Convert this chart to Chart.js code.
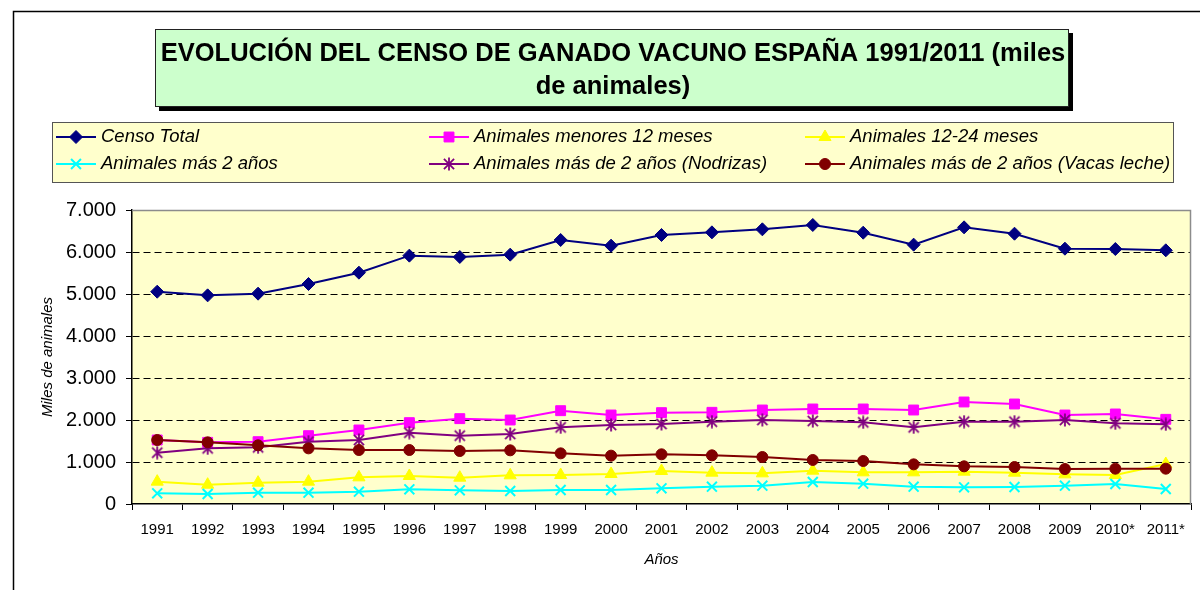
<!DOCTYPE html>
<html>
<head>
<meta charset="utf-8">
<script src="https://cdn.jsdelivr.net/npm/chart.js@4/dist/chart.umd.min.js"></script>
<style>
  html, body { margin: 0; padding: 0; background: #fff; }
  #wrap { width: 1200px; height: 590px; position: relative; }
</style>
</head>
<body>
<div id="wrap"><canvas id="c" width="1200" height="590"></canvas></div>
<script>
// ---- data ----
const years = ['1991','1992','1993','1994','1995','1996','1997','1998','1999','2000','2001','2002','2003','2004','2005','2006','2007','2008','2009','2010*','2011*'];
const censoTotal = [5055, 4968, 5008, 5238, 5508, 5913, 5881, 5937, 6286, 6151, 6405, 6468, 6540, 6643, 6460, 6175, 6587, 6436, 6079, 6071, 6040];
const menores12 = [1524, 1468, 1484, 1627, 1762, 1937, 2032, 2000, 2222, 2119, 2175, 2183, 2238, 2262, 2262, 2238, 2429, 2381, 2119, 2143, 2016];
const meses12a24 = [532, 460, 508, 532, 635, 667, 627, 683, 690, 714, 786, 746, 730, 794, 754, 754, 770, 746, 706, 690, 952];
const mas2anos = [254, 238, 270, 270, 294, 349, 325, 310, 333, 333, 373, 413, 437, 524, 484, 413, 397, 405, 437, 476, 357];
const nodrizas = [1222, 1325, 1349, 1484, 1524, 1698, 1627, 1667, 1825, 1881, 1905, 1960, 2000, 1976, 1944, 1825, 1960, 1960, 2000, 1920, 1897];
const vacasLeche = [1524, 1468, 1397, 1325, 1286, 1286, 1262, 1278, 1206, 1151, 1183, 1159, 1119, 1048, 1024, 944, 897, 881, 833, 841, 841];
const seriesNames = ['Censo Total', 'Animales menores 12 meses', 'Animales 12-24 meses', 'Animales más 2 años', 'Animales más de 2 años (Nodrizas)', 'Animales más de 2 años (Vacas leche)'];
const yTickLabels = ['0', '1.000', '2.000', '3.000', '4.000', '5.000', '6.000', '7.000'];
const titleLines = ['EVOLUCIÓN DEL CENSO DE GANADO VACUNO ESPAÑA 1991/2011 (miles', 'de animales)'];
const yAxisTitle = 'Miles de animales';
const xAxisTitle = 'Años';

const FONT = '"Liberation Sans", Arial, sans-serif';

function makeAsterisk(color, size) {
  const c = document.createElement('canvas');
  c.width = size; c.height = size;
  const g = c.getContext('2d');
  g.strokeStyle = color; g.lineWidth = 1.8; g.lineCap = 'butt';
  const m = size / 2, r = size / 2 - 0.5, d = r * 0.78;
  g.beginPath();
  g.moveTo(m, m - r); g.lineTo(m, m + r);
  g.moveTo(m - d, m - d); g.lineTo(m + d, m + d);
  g.moveTo(m + d, m - d); g.lineTo(m - d, m + d);
  g.stroke();
  return c;
}
const asterisk = makeAsterisk('#800080', 14);

const styles = [
  { color: '#000080', pointStyle: 'rectRot', radius: 6.5, bw: 1 },
  { color: '#FF00FF', pointStyle: 'rect', radius: 7, bw: 1 },
  { color: '#FFFF00', pointStyle: 'triangle', radius: 7, bw: 1 },
  { color: '#00FFFF', pointStyle: 'crossRot', radius: 7, bw: 2 },
  { color: '#800080', pointStyle: asterisk, radius: 7, bw: 1 },
  { color: '#800000', pointStyle: 'circle', radius: 5.5, bw: 1 }
];
const seriesData = [censoTotal, menores12, meses12a24, mas2anos, nodrizas, vacasLeche];

const datasets = seriesData.map((d, i) => ({
  label: seriesNames[i],
  data: d,
  borderColor: styles[i].color,
  backgroundColor: styles[i].color,
  pointBackgroundColor: styles[i].color,
  pointBorderColor: styles[i].color,
  pointBorderWidth: styles[i].bw,
  pointStyle: styles[i].pointStyle,
  pointRadius: styles[i].radius,
  pointHoverRadius: styles[i].radius,
  borderWidth: 2,
  tension: 0,
  fill: false,
  order: 6 - i
}));

const decor = {
  id: 'decor',
  beforeDraw(chart) {
    const ctx = chart.ctx, ca = chart.chartArea;
    ctx.save();
    ctx.fillStyle = '#ffffff';
    ctx.fillRect(0, 0, chart.width, chart.height);
    // outer chart border
    ctx.strokeStyle = '#000'; ctx.lineWidth = 1.5;
    ctx.beginPath();
    ctx.moveTo(13.5, chart.height + 2); ctx.lineTo(13.5, 11.5); ctx.lineTo(chart.width + 2, 11.5);
    ctx.stroke();
    // plot area background
    ctx.fillStyle = '#FFFFCC';
    ctx.fillRect(ca.left, ca.top, ca.right - ca.left, ca.bottom - ca.top);
    // title box with shadow
    ctx.fillStyle = '#000';
    ctx.fillRect(159, 33, 914, 78);
    ctx.fillStyle = '#CCFFCC';
    ctx.fillRect(155, 29, 914, 78);
    ctx.strokeStyle = '#222'; ctx.lineWidth = 1;
    ctx.strokeRect(155.5, 29.5, 913, 77);
    ctx.fillStyle = '#000';
    ctx.font = 'bold 25.5px ' + FONT;
    ctx.textAlign = 'center'; ctx.textBaseline = 'middle';
    ctx.fillText(titleLines[0], 613, 54);
    ctx.fillText(titleLines[1], 613, 87);
    // legend box
    ctx.fillStyle = '#FFFFCC';
    ctx.fillRect(52, 122, 1122, 61);
    ctx.strokeStyle = '#555'; ctx.lineWidth = 1;
    ctx.strokeRect(52.5, 122.5, 1121, 60);
    const colX = [101, 474, 850];
    const rowY = [137, 164];
    ctx.font = 'italic 18.5px ' + FONT;
    ctx.textAlign = 'left'; ctx.textBaseline = 'middle';
    chart.data.datasets.forEach((ds, i) => {
      const col = i % 3, row = Math.floor(i / 3);
      const tx = colX[col], ty = rowY[row];
      const x1 = tx - 45, x2 = tx - 5, xm = (x1 + x2) / 2;
      ctx.strokeStyle = ds.borderColor; ctx.lineWidth = 2;
      ctx.beginPath(); ctx.moveTo(x1, ty); ctx.lineTo(x2, ty); ctx.stroke();
      ctx.fillStyle = ds.pointBackgroundColor;
      ctx.strokeStyle = ds.pointBorderColor;
      ctx.lineWidth = ds.pointBorderWidth;
      if (Chart.helpers && Chart.helpers.drawPoint) {
        Chart.helpers.drawPoint(ctx, { pointStyle: ds.pointStyle, radius: ds.pointRadius, rotation: 0, borderWidth: ds.pointBorderWidth }, xm, ty);
      }
      ctx.fillStyle = '#000';
      ctx.fillText(ds.label, tx, ty);
    });
    ctx.restore();
  },
  beforeDatasetsDraw(chart) {
    const ctx = chart.ctx, ca = chart.chartArea;
    ctx.save();
    ctx.strokeStyle = '#8c8c8c'; ctx.lineWidth = 1.5;
    ctx.beginPath();
    ctx.moveTo(ca.left, ca.top + 0.5); ctx.lineTo(ca.right - 0.5, ca.top + 0.5); ctx.lineTo(ca.right - 0.5, ca.bottom);
    ctx.stroke();
    ctx.restore();
  }
};

new Chart(document.getElementById('c'), {
  type: 'line',
  data: { labels: years, datasets: datasets },
  plugins: [decor],
  options: {
    responsive: false,
    animation: false,
    devicePixelRatio: 1,
    events: [],
    layout: { padding: { left: 13, top: 210, right: 7, bottom: 0 } },
    plugins: { legend: { display: false }, title: { display: false }, tooltip: { enabled: false } },
    scales: {
      x: {
        offset: true,
        grid: { offset: true, drawOnChartArea: false, drawTicks: true, tickLength: 6, color: '#000', tickColor: '#000', lineWidth: 1 },
        border: { display: true, color: '#000', width: 1.5 },
        ticks: { font: { family: FONT, size: 15 }, color: '#000', padding: 11, maxRotation: 0, autoSkip: false },
        title: { display: true, text: xAxisTitle, font: { family: FONT, size: 15, style: 'italic' }, color: '#000', padding: { top: 0, bottom: 21 } },
        afterFit(scale) { scale.height = 86; }
      },
      y: {
        min: 0, max: 7000,
        ticks: { stepSize: 1000, callback: (v, i) => yTickLabels[i], font: { family: FONT, size: 20 }, color: '#000', padding: 10 },
        grid: {
          color: (c) => (c.tick && (c.tick.value === 0 || c.tick.value === 7000)) ? 'rgba(0,0,0,0)' : '#000',
          lineWidth: 1, drawTicks: true, tickLength: 6, tickColor: '#000', tickBorderDash: [], tickWidth: 1
        },
        border: { display: true, color: '#000', width: 1.5, dash: [7, 4] },
        title: { display: true, text: yAxisTitle, font: { family: FONT, size: 15, style: 'italic' }, color: '#000', padding: { top: 26, bottom: 0 } },
        afterFit(scale) { scale.width = 119; }
      }
    }
  }
});
</script>
</body>
</html>
